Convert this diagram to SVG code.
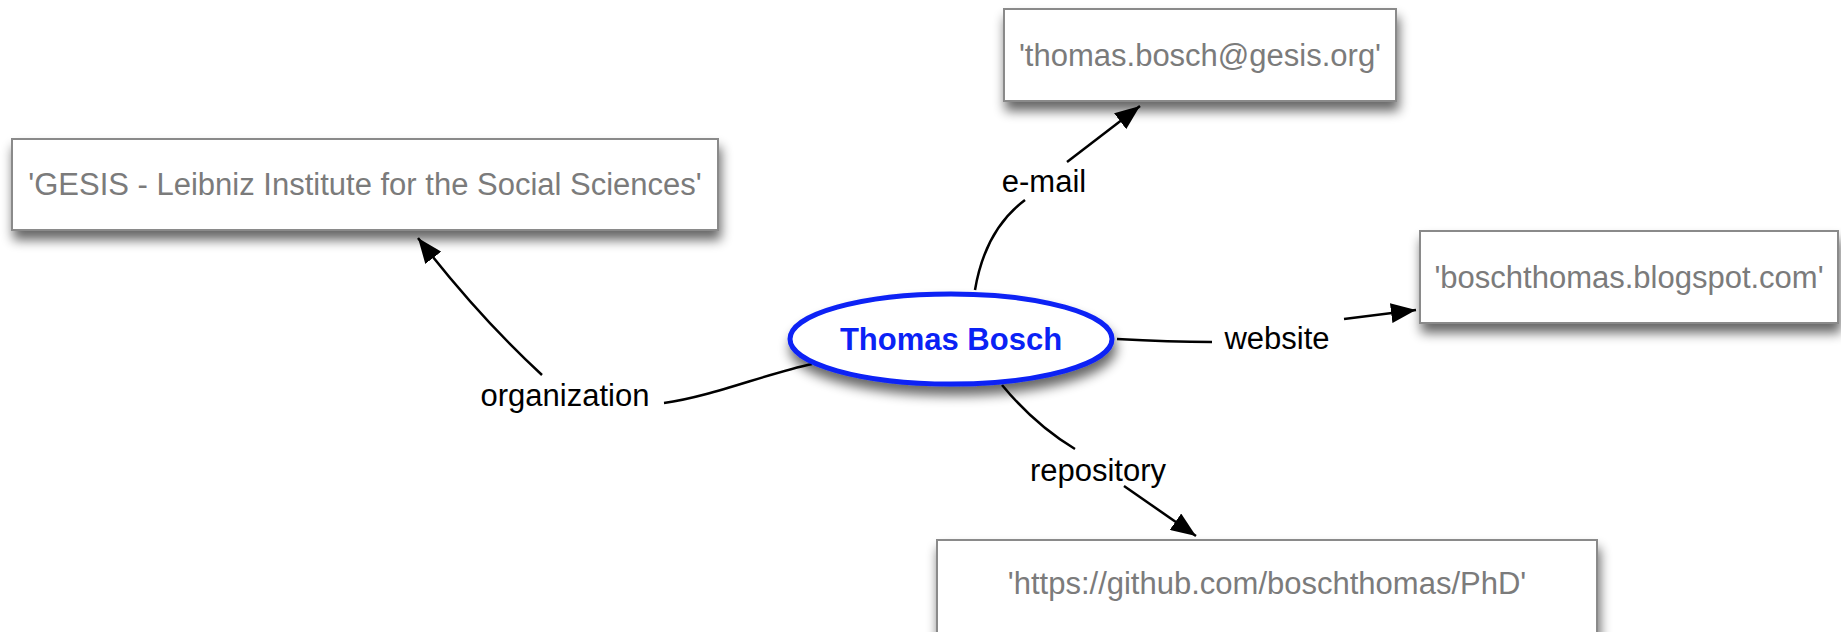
<svg xmlns="http://www.w3.org/2000/svg" width="1841" height="632" viewBox="0 0 1841 632">
<style>
.box{fill:#fff;stroke:#8a8a8a;stroke-width:2;filter:url(#sh)}
.bt{font-family:"Liberation Sans",Arial,sans-serif;font-size:31px;fill:#7b7b7b;text-anchor:middle}
.lbl{font-family:"Liberation Sans",Arial,sans-serif;font-size:31px;fill:#000;text-anchor:middle}
.ln{fill:none;stroke:#000;stroke-width:2.5}
.title{font-family:"Liberation Sans",Arial,sans-serif;font-size:31px;font-weight:bold;fill:#0a22f5;text-anchor:middle}
</style>
<defs>
<filter id="sh" x="-10%" y="-30%" width="120%" height="170%">
<feGaussianBlur in="SourceAlpha" stdDeviation="6"/>
<feOffset dx="2" dy="9" result="b"/>
<feComponentTransfer><feFuncA type="linear" slope="0.6"/></feComponentTransfer>
<feMerge><feMergeNode/><feMergeNode in="SourceGraphic"/></feMerge>
</filter>
<marker id="ah" markerWidth="10" markerHeight="8" refX="10" refY="4" orient="auto" markerUnits="strokeWidth">
<path d="M0,0 L10,4 L0,8 Z" fill="#000"/>
</marker>
</defs>
<rect width="1841" height="632" fill="#fff"/>
<g id="connectors">
<path class="ln" d="M812,364 C765,374 710,397 664,403"/>
<path class="ln" d="M542,375 Q478,316 418,238" marker-end="url(#ah)"/>
<path class="ln" d="M975,290 Q985,230 1025,200"/>
<path class="ln" d="M1067,162 L1140,106" marker-end="url(#ah)"/>
<path class="ln" d="M1117,339 Q1170,342 1212,342"/>
<path class="ln" d="M1344,319 L1416,310" marker-end="url(#ah)"/>
<path class="ln" d="M1002,385 Q1035,425 1075,449"/>
<path class="ln" d="M1124,486 L1196,536" marker-end="url(#ah)"/>
<text class="lbl" x="565" y="406">organization</text>
<text class="lbl" x="1044" y="192">e-mail</text>
<text class="lbl" x="1277" y="349">website</text>
<text class="lbl" x="1098" y="481">repository</text>
</g>
<g id="n-gesis">
<rect class="box" x="12" y="139" width="706" height="91"/>
<text class="bt" x="365" y="195">'GESIS - Leibniz Institute for the Social Sciences'</text>
</g>
<g id="n-email">
<rect class="box" x="1004" y="9" width="392" height="92"/>
<text class="bt" x="1200" y="66">'thomas.bosch@gesis.org'</text>
</g>
<g id="n-website">
<rect class="box" x="1420" y="231" width="418" height="92"/>
<text class="bt" x="1629" y="288">'boschthomas.blogspot.com'</text>
</g>
<g id="n-repo">
<rect class="box" x="937" y="540" width="660" height="100"/>
<text class="bt" x="1267" y="594">'https://github.com/boschthomas/PhD'</text>
</g>
<g id="n-thomas">
<ellipse cx="951" cy="339" rx="161" ry="45" fill="#fff" stroke="#0a22f5" stroke-width="5" filter="url(#sh)"/>
<text class="title" x="951" y="350">Thomas Bosch</text>
</g>
</svg>
